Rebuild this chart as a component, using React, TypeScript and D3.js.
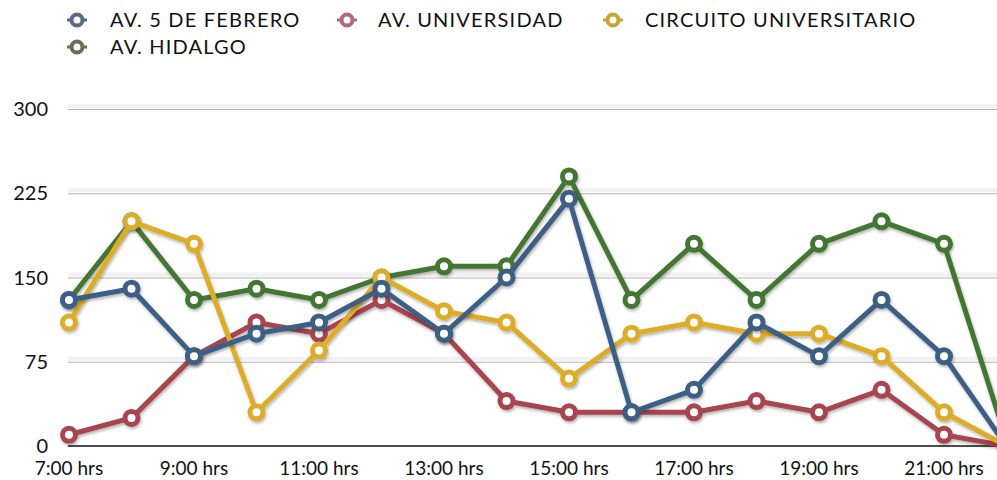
import React from "react";
import * as d3 from "d3";

const hours = [7, 8, 9, 10, 11, 12, 13, 14, 15, 16, 17, 18, 19, 20, 21, 22];
const tickHours = [7, 9, 11, 13, 15, 17, 19, 21];
const yTicks = [0, 75, 150, 225, 300];

const seriesNames = [
  "AV. 5 DE FEBRERO",
  "AV. UNIVERSIDAD",
  "CIRCUITO UNIVERSITARIO",
  "AV. HIDALGO",
];
const febrero = [130, 140, 80, 100, 110, 140, 100, 150, 220, 30, 50, 110, 80, 130, 80, 0];
const universidad = [10, 25, 80, 110, 100, 130, 100, 40, 30, 30, 30, 40, 30, 50, 10, 0];
const circuito = [110, 200, 180, 30, 85, 150, 120, 110, 60, 100, 110, 100, 100, 80, 30, 0];
const hidalgo = [130, 200, 130, 140, 130, 150, 160, 160, 240, 130, 180, 130, 180, 200, 180, 5];

const colors = ["#3c5f85", "#a8444f", "#ddad2c", "#437631"];
const legendColors = ["#5a6a84", "#b2687a", "#c9a536", "#5f7452"];

export default function App() {
  const width = 997;
  const height = 480;
  const x = d3.scaleLinear().domain([7, 21]).range([69, 944]);
  const y = d3.scaleLinear().domain([0, 300]).range([446, 109]);
  const font = "Lato, 'Open Sans', sans-serif";

  const allSeries = [febrero, universidad, circuito, hidalgo];
  // draw order bottom -> top
  const drawOrder = [3, 1, 2, 0];

  const line = d3
    .line<number>()
    .x((_, i) => x(hours[i]))
    .y((d) => y(d));

  const legendItems = [
    { i: 0, lx: 77, ly: 20, tx: 33 },
    { i: 1, lx: 347, ly: 20, tx: 31 },
    { i: 2, lx: 613, ly: 20, tx: 32 },
    { i: 3, lx: 77, ly: 47, tx: 33 },
  ];

  return (
    <div style={{ position: "absolute", left: 0, top: 0 }}>
      <svg width={width} height={height} style={{ display: "block", background: "#fff" }}>
        <defs>
          <filter id="shadow" x="-5%" y="-5%" width="110%" height="120%">
            <feDropShadow dx="1" dy="2" stdDeviation="1.5" floodColor="#000" floodOpacity="0.3" />
          </filter>
        </defs>

        {/* legend */}
        {legendItems.map(({ i, lx, ly, tx }) => (
          <g key={i} transform={`translate(${lx},${ly})`}>
            <line x1={-10} x2={10} y1={0} y2={0} stroke={legendColors[i]} strokeWidth={3} />
            <circle r={5.5} fill="#fff" stroke={legendColors[i]} strokeWidth={4} />
            <text
              x={tx}
              y={0}
              dy="0.36em"
              fontFamily={font}
              fontSize={20}
              letterSpacing={1.2}
              fill="#111"
            >
              {seriesNames[i]}
            </text>
          </g>
        ))}

        {/* grid */}
        {yTicks.map((t) => (
          <g key={t}>
            {t > 0 && (
              <>
                <line x1={68} x2={width} y1={y(t) - 3} y2={y(t) - 3} stroke="#f2f2f2" strokeWidth={4} />
                <line x1={68} x2={width} y1={y(t) + 0.5} y2={y(t) + 0.5} stroke="#b4b4b4" strokeWidth={1} />
              </>
            )}
            <text
              x={48}
              y={y(t)}
              dy="0.36em"
              textAnchor="end"
              fontFamily={font}
              fontSize={20}
              fill="#111"
            >
              {t}
            </text>
          </g>
        ))}
        <line x1={68} x2={width} y1={y(0)} y2={y(0)} stroke="#111" strokeWidth={1.5} />

        {/* x labels */}
        {tickHours.map((h) => (
          <text
            key={h}
            x={x(h)}
            y={475}
            textAnchor="middle"
            fontFamily={font}
            fontSize={19}
            fill="#111"
          >
            {`${h}:00 hrs`}
          </text>
        ))}

        {/* series */}
        {drawOrder.map((si) => (
          <g key={si} filter="url(#shadow)">
            <path
              d={line(allSeries[si]) || ""}
              fill="none"
              stroke={colors[si]}
              strokeWidth={5}
              strokeLinejoin="round"
            />
            {allSeries[si].map((v, k) => (
              <circle
                key={k}
                cx={x(hours[k])}
                cy={y(v)}
                r={6.5}
                fill="#fff"
                stroke={colors[si]}
                strokeWidth={5}
              />
            ))}
          </g>
        ))}
      </svg>
    </div>
  );
}
